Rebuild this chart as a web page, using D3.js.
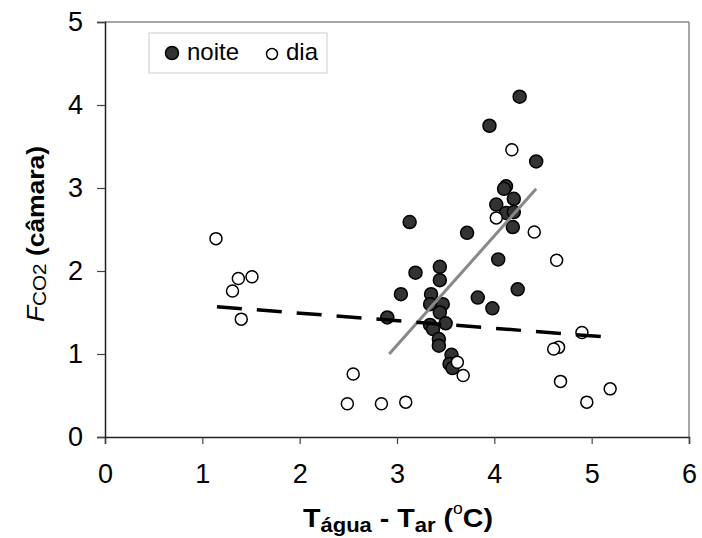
<!DOCTYPE html>
<html><head><meta charset="utf-8">
<script src="https://cdn.jsdelivr.net/npm/d3@7"></script>
<style>body{margin:0;background:#fff}svg{display:block;font-family:Arial,"Liberation Sans",sans-serif}</style>
</head><body><svg id="c" width="702" height="538"></svg>
<script>
const xTicks = [0,1,2,3,4,5,6];
const yTicks = [0,1,2,3,4,5];
const noiteX = [4.26,3.95,4.43,4.12,4.10,4.20,4.02,4.12,4.20,4.19,3.13,3.72,4.04,3.44,3.19,3.44,4.24,3.04,3.35,3.83,3.98,3.34,3.47,3.44,2.90,3.50,3.34,3.37,3.43,3.43,3.56,3.54,3.57];
const noiteY = [4.10,3.75,3.32,3.02,2.99,2.87,2.80,2.70,2.71,2.53,2.59,2.46,2.14,2.05,1.98,1.89,1.78,1.72,1.72,1.68,1.55,1.60,1.60,1.50,1.44,1.37,1.35,1.30,1.18,1.10,0.99,0.88,0.83];
const diaX = [1.14,1.37,1.51,1.31,1.40,2.55,2.49,2.84,3.09,3.62,3.68,4.02,4.18,4.41,4.64,4.90,4.66,4.61,4.68,5.19,4.95];
const diaY = [2.39,1.91,1.93,1.76,1.42,0.76,0.40,0.40,0.42,0.90,0.74,2.64,3.46,2.47,2.13,1.26,1.08,1.06,0.67,0.58,0.42];
const noiteFitX = [2.92,4.43], noiteFitY = [1.0,2.99];
const diaFitX = [1.15,5.2], diaFitY = [1.57,1.20];
const legendLabels = ["noite","dia"];

const svg = d3.select("#c");
const L=105,R=689,T=22,B=437;
const x = d3.scaleLinear().domain([0,6]).range([L,R]);
const y = d3.scaleLinear().domain([0,5]).range([B,T]);

// frame
svg.append("line").attr("x1",L).attr("x2",R).attr("y1",T).attr("y2",T).attr("stroke","#888").attr("stroke-width",1.5);
svg.append("line").attr("x1",R).attr("x2",R).attr("y1",T).attr("y2",B).attr("stroke","#888").attr("stroke-width",1.5);

const xa = svg.append("g").attr("transform",`translate(0,${B})`)
  .call(d3.axisBottom(x).tickValues(xTicks).tickSize(7).tickPadding(20).tickFormat(d3.format("d")));
const ya = svg.append("g").attr("transform",`translate(${L},0)`)
  .call(d3.axisLeft(y).tickValues(yTicks).tickSize(8).tickPadding(14).tickFormat(d3.format("d")));
[xa,ya].forEach(a=>{
  a.selectAll("path").attr("stroke","#222").attr("stroke-width",1.5);
  a.selectAll("line").attr("stroke","#444").attr("stroke-width",1.2);
  a.selectAll("text").attr("font-size",27).attr("fill","#000").attr("font-family","Arial,'Liberation Sans',sans-serif");
});

const line = d3.line();
const dia = diaX.map((v,i)=>[v,diaY[i]]);
const noite = noiteX.map((v,i)=>[v,noiteY[i]]);
svg.append("g").selectAll("circle").data(noite).join("circle")
  .attr("cx",d=>x(d[0])).attr("cy",d=>y(d[1])).attr("r",6.5)
  .attr("fill","#333").attr("stroke","#000").attr("stroke-width",1.5);
svg.append("g").selectAll("circle").data(dia).join("circle")
  .attr("cx",d=>x(d[0])).attr("cy",d=>y(d[1])).attr("r",6)
  .attr("fill","#fff").attr("stroke","#000").attr("stroke-width",1.5);

svg.append("path").attr("d",line(noiteFitX.map((v,i)=>[x(v),y(noiteFitY[i])])))
  .attr("stroke","#888").attr("stroke-width",3).attr("fill","none");
svg.append("path").attr("d",line(diaFitX.map((v,i)=>[x(v),y(diaFitY[i])])))
  .attr("stroke","#000").attr("stroke-width",3.5).attr("fill","none").attr("stroke-dasharray","25,15");

// legend
const lg = svg.append("g");
lg.append("rect").attr("x",149).attr("y",33).attr("width",178).attr("height",40).attr("fill","#fff").attr("stroke","#ccc").attr("stroke-width",1);
lg.append("circle").attr("cx",172).attr("cy",53).attr("r",6.5).attr("fill","#333").attr("stroke","#000").attr("stroke-width",1.5);
lg.append("text").attr("x",187).attr("y",60).attr("font-size",24).text(legendLabels[0]);
lg.append("circle").attr("cx",272).attr("cy",54).attr("r",5.5).attr("fill","#fff").attr("stroke","#000").attr("stroke-width",1.5);
lg.append("text").attr("x",286).attr("y",60).attr("font-size",24).text(legendLabels[1]);

// x title
const xt = svg.append("text").attr("transform","translate(398,527) scale(1.1,1)").attr("text-anchor","middle").attr("font-size",26).attr("font-weight","bold");
xt.append("tspan").text("T");
xt.append("tspan").attr("font-size",20).attr("dy",5).text("água");
xt.append("tspan").attr("dy",-5).text(" - T");
xt.append("tspan").attr("font-size",20).attr("dy",5).text("ar");
xt.append("tspan").attr("dy",-5).text(" (");
xt.append("tspan").attr("font-size",16).attr("font-weight","normal").attr("dy",-13).text("o");
xt.append("tspan").attr("dy",13).text("C)");

// y title
const yt = svg.append("text").attr("transform","translate(44,234) rotate(-90) scale(1.15,1)").attr("text-anchor","middle").attr("font-size",23);
yt.append("tspan").attr("font-style","italic").text("F");
yt.append("tspan").attr("font-size",18).attr("dy",2).text("CO2");
yt.append("tspan").attr("dy",-2).attr("font-weight","bold").text(" (câmara)");
</script></body></html>
